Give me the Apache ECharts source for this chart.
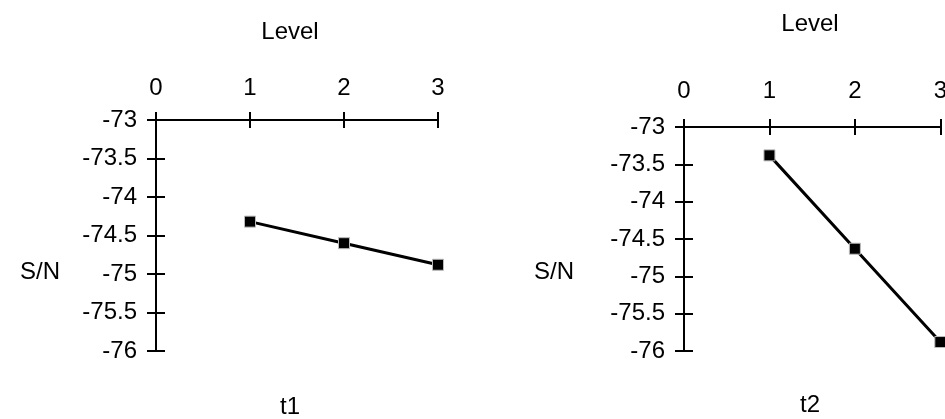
<!DOCTYPE html>
<html>
<head>
<meta charset="utf-8">
<script src="https://cdn.jsdelivr.net/npm/echarts@6/dist/echarts.min.js"></script>
<style>
  html, body { margin: 0; padding: 0; overflow: hidden; background: #fff; }
  #chart { width: 950px; height: 419px; }
</style>
</head>
<body>
<div id="chart"></div>
<script>
// Data
const levels = [1, 2, 3];
const t1Values = [-74.32, -74.60, -74.88];
const t2Values = [-73.38, -74.63, -75.88];
const xTicks = [0, 1, 2, 3];
const yTicks = [-73, -73.5, -74, -74.5, -75, -75.5, -76];
const panelNames = ['t1', 't2'];

const FONT = '"Liberation Sans", Arial, sans-serif';
const FS = 24;

const t1Data = levels.map((x, i) => [x, t1Values[i]]);
const t2Data = levels.map((x, i) => [x, t2Values[i]]);

function xAxisPair(gridIndex, labelMargin) {
  const base = {
    type: 'value', gridIndex, position: 'top',
    min: xTicks[0], max: xTicks[xTicks.length - 1], interval: 1,
    splitLine: { show: false },
    axisLine: { onZero: false, show: true, lineStyle: { color: '#000', width: 2 } },
  };
  return [
    Object.assign({}, base, {
      axisTick: { show: true, inside: false, length: 8, lineStyle: { color: '#000', width: 2 } },
      axisLabel: { show: true, margin: labelMargin, color: '#000', fontFamily: FONT, fontSize: FS }
    }),
    Object.assign({}, base, {
      axisLine: { show: false, onZero: false },
      axisTick: { show: true, inside: true, length: 8, lineStyle: { color: '#000', width: 2 } },
      axisLabel: { show: false }
    })
  ];
}
function yAxisPair(gridIndex) {
  const base = {
    type: 'value', gridIndex, position: 'left',
    min: yTicks[yTicks.length - 1], max: yTicks[0], interval: 0.5,
    splitLine: { show: false },
    axisLine: { onZero: false, show: true, lineStyle: { color: '#000', width: 2 } },
  };
  return [
    Object.assign({}, base, {
      axisTick: { show: true, inside: false, length: 9, lineStyle: { color: '#000', width: 2 } },
      axisLabel: { show: true, margin: 19, color: '#000', fontFamily: FONT, fontSize: FS, padding: [0, 0, 4, 0] }
    }),
    Object.assign({}, base, {
      axisLine: { show: false, onZero: false },
      axisTick: { show: true, inside: true, length: 9, lineStyle: { color: '#000', width: 2 } },
      axisLabel: { show: false }
    })
  ];
}

function lineSeries(xi, yi, data) {
  return {
    type: 'line', xAxisIndex: xi, yAxisIndex: yi, data,
    symbol: 'rect', symbolSize: 11, showSymbol: true,
    lineStyle: { color: '#000', width: 3 },
    itemStyle: { color: '#000', borderColor: '#bbb', borderWidth: 1 },
    clip: false, animation: false, z: 5
  };
}

function txt(x, y, s) {
  return { type: 'text', x, y, style: { text: s, fill: '#000', font: FS + 'px ' + FONT, textAlign: 'center', textVerticalAlign: 'middle' } };
}

const chart = echarts.init(document.getElementById('chart'), null, { renderer: 'canvas' });
chart.setOption({
  animation: false,
  backgroundColor: '#fff',
  grid: [
    { left: 156, top: 120, width: 282, height: 231 },
    { left: 684, top: 127, width: 263, height: 224 }
  ],
  xAxis: [].concat(xAxisPair(0, 20), xAxisPair(1, 24)),
  yAxis: [].concat(yAxisPair(0), yAxisPair(1)),
  series: [
    lineSeries(0, 0, t1Data),
    lineSeries(2, 2, t2Data)
  ],
  graphic: [
    txt(290, 32, 'Level'),
    txt(810, 24, 'Level'),
    txt(40, 272, 'S/N'),
    txt(554, 272, 'S/N'),
    txt(290, 407, panelNames[0]),
    txt(810, 405, panelNames[1])
  ]
});
</script>
</body>
</html>
